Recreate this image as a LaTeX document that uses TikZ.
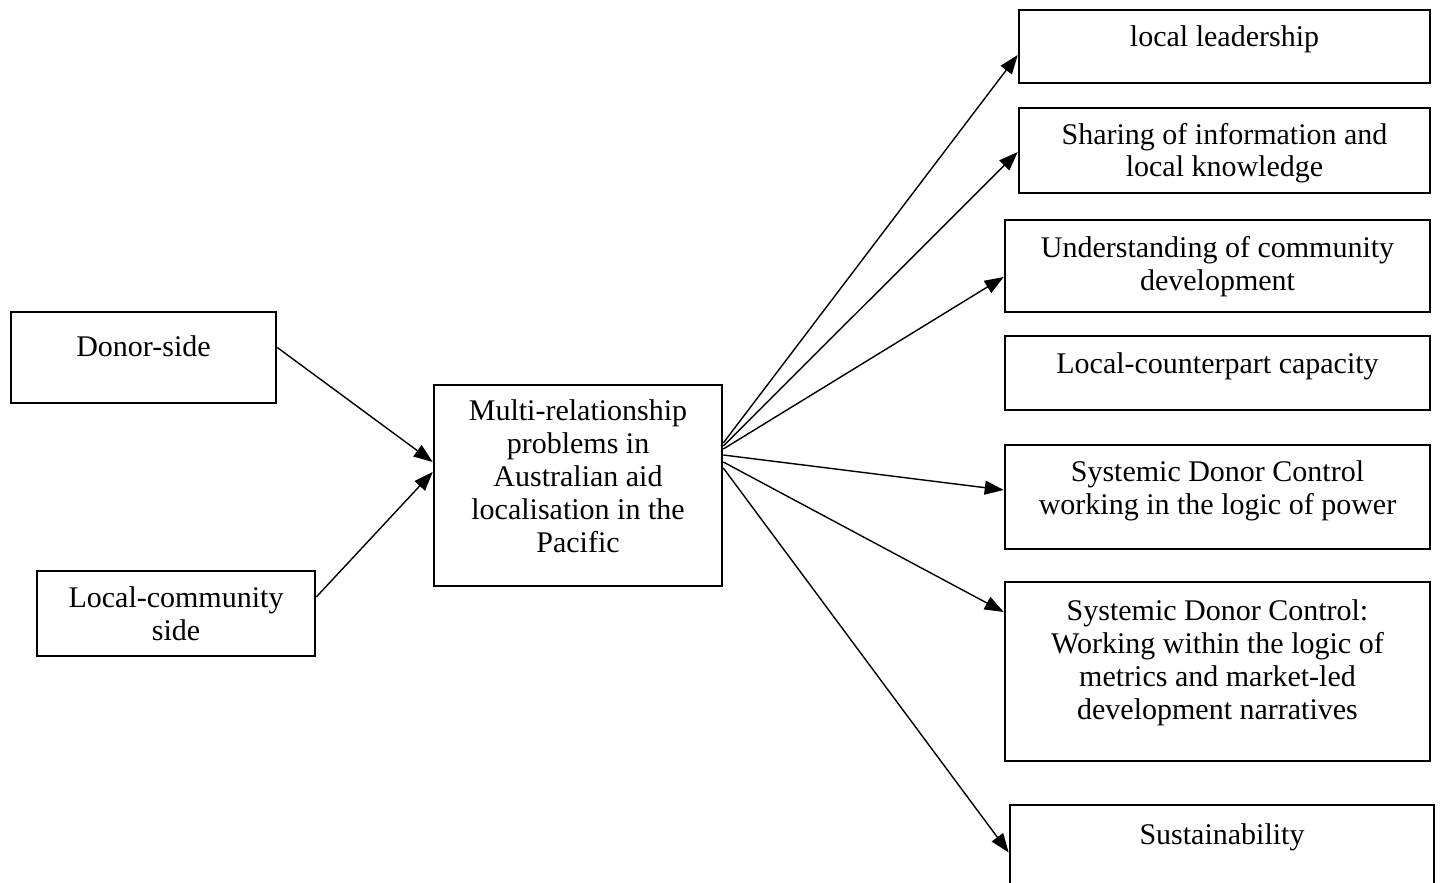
\documentclass[tikz,border=0pt]{standalone}
\usepackage{fontspec}
\setmainfont{Liberation Serif}
\usetikzlibrary{arrows.meta}
\newcommand{\tl}[1]{\begin{tabular}[t]{@{}c@{}}#1\end{tabular}}
\begin{document}
\begin{tikzpicture}[x=0.5pt,y=-0.5pt,
  box/.style={draw,line width=1.3pt,inner sep=0pt,rectangle},
  txt/.style={anchor=base,inner sep=0pt,font=\fontsize{15}{16.5}\selectfont},
  arr/.style={line width=0.7pt,-{Triangle[length=9.5pt,width=7pt]}}]
\clip (0,0) rectangle (1440,883);
\fill[white] (0,0) rectangle (1440,883);
% boxes
\node[box,minimum width=132.5pt,minimum height=45.5pt] (don) at (143.5,357.5) {};
\node[box,minimum width=139pt,minimum height=42.5pt] (loc) at (176,613.5) {};
\node[box,minimum width=144pt,minimum height=100.5pt] (cen) at (578,485.5) {};
\node[box,minimum width=205.5pt,minimum height=36.5pt] (ll) at (1224.5,46.5) {};
\node[box,minimum width=205.5pt,minimum height=42.5pt] (sh) at (1224.5,150.5) {};
\node[box,minimum width=212.5pt,minimum height=46pt] (und) at (1217.5,266) {};
\node[box,minimum width=212.5pt,minimum height=37pt] (lc) at (1217.5,373) {};
\node[box,minimum width=212.5pt,minimum height=52pt] (pow) at (1217.5,497) {};
\node[box,minimum width=212.5pt,minimum height=89.5pt] (met) at (1217.5,671.5) {};
\node[box,minimum width=212pt,minimum height=47.5pt] (sus) at (1222,852.5) {};
% texts
\node[txt] (tdon) at (143.5,356) {\tl{Donor-side}};
\node[txt] (tloc) at (176,607) {\tl{Local-community\\side}};
\node[txt] (tcen) at (578,420) {\tl{Multi-relationship\\problems in\\Australian aid\\localisation in the\\Pacific}};
\node[txt] (tll) at (1224.5,47) {\tl{local leadership}};
\node[txt] (tsh) at (1224.5,144) {\tl{Sharing of information and\\local knowledge}};
\node[txt] (tund) at (1217.5,257) {\tl{Understanding of community\\development}};
\node[txt] (tlc) at (1217.5,373) {\tl{Local-counterpart capacity}};
\node[txt] (tpow) at (1217.5,481) {\tl{Systemic Donor Control\\working in the logic of power}};
\node[txt] (tmet) at (1217.5,620) {\tl{Systemic Donor Control:\\Working within the logic of\\metrics and market-led\\development narratives}};
\node[txt] (tsus) at (1222,844) {\tl{Sustainability}};
% arrows
\draw[arr] ([yshift=5pt]don.east) -- ([yshift=11.75pt]cen.west);
\draw[arr] ([yshift=8.25pt]loc.east) -- ([yshift=6.75pt]cen.west);
\draw[arr] ([yshift=21.25pt]cen.east) -- ([yshift=-4.25pt]ll.west);
\draw[arr] ([yshift=19.75pt]cen.east) -- ([yshift=-0.75pt]sh.west);
\draw[arr] ([yshift=18.25pt]cen.east) -- ([yshift=-5.5pt]und.west);
\draw[arr] ([yshift=15.25pt]cen.east) -- ([yshift=3.5pt]pow.west);
\draw[arr] ([yshift=11.75pt]cen.east) -- ([yshift=29.75pt]met.west);
\draw[arr] ([yshift=8.75pt]cen.east) -- (sus.west);
\end{tikzpicture}
\end{document}
